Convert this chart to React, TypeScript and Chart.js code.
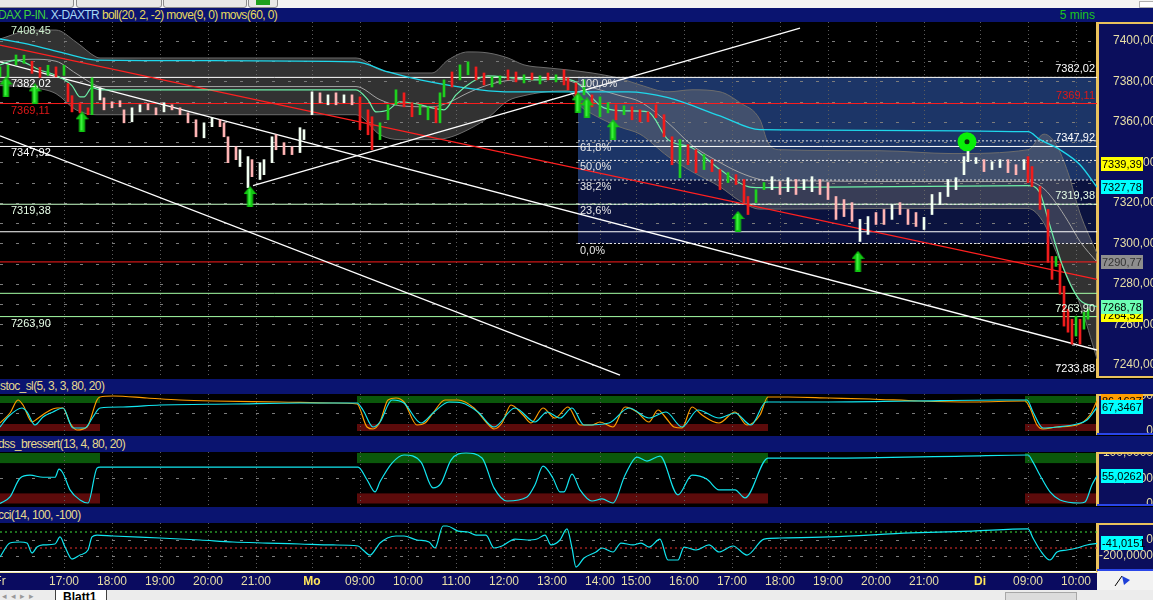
import React, { useEffect, useRef } from 'react';
import { Chart, registerables } from 'chart.js';

Chart.register(...registerables);

// ---------------- time axis (index of 5-minute bars) ----------------
const xMin = 0;
const xMax = 274.25;
const hourTickIdx = [0, 16, 28, 40, 52, 64, 78, 90, 102, 114, 126, 138, 150, 159, 171, 183, 195, 207, 219, 231, 245, 257, 269];
const hourTickLabels = ['Fr', '17:00', '18:00', '19:00', '20:00', '21:00', 'Mo', '09:00', '10:00', '11:00', '12:00', '13:00', '14:00', '15:00', '16:00', '17:00', '18:00', '19:00', '20:00', '21:00', 'Di', '09:00', '10:00'];
const dayLabels = ['Mo', 'Di'];

// ---------------- price axis ----------------
const priceMin = 7233.58;
const priceMax = 7409.38;
const priceTicks = [7240, 7260, 7280, 7300, 7320, 7340, 7360, 7380, 7400];
const priceGrid = [7240, 7250, 7260, 7270, 7280, 7290, 7300, 7310, 7320, 7330, 7340, 7350, 7360, 7370, 7380, 7390, 7400];

// ---------------- price bars (low / high) ----------------
const barIdx = [
  0, 2, 4, 6, 8, 10, 12, 14, 16, 17,
  18, 20, 22, 23, 25, 26, 28, 30, 31, 33,
  35, 37, 39, 41, 43, 45, 47, 49, 51, 53,
  55, 56, 57, 59, 60, 62, 63, 65, 66, 68,
  69, 71, 73, 75, 76, 78, 80, 82, 84, 86,
  88, 90, 92, 93, 95, 97, 99, 101, 103, 105,
  107, 109, 110, 111, 113, 115, 117, 119, 121, 123,
  125, 127, 129, 131, 133, 135, 137, 139, 141, 142,
  144, 146, 148, 150, 152, 154, 156, 158, 160, 162,
  164, 166, 168, 170, 172, 174, 176, 178, 180, 182,
  184, 186, 187, 189, 191, 193, 195, 197, 199, 201,
  203, 205, 207, 209, 211, 213, 215, 217, 219, 221,
  223, 225, 227, 229, 231, 233, 235, 237, 239, 241,
  242, 244, 246, 248, 250, 252, 254, 256, 257, 258,
  260, 262, 263, 264, 265, 266, 267, 268, 269, 270,
  271, 272,
];
const barLow = [
  7382.3, 7382.0, 7388.2, 7389.0, 7384.0, 7382.0, 7383.0, 7382.3, 7383.0, 7370.0,
  7365.0, 7364.5, 7363.6, 7363.6, 7370.9, 7366.0, 7367.0, 7367.5, 7359.6, 7360.1,
  7365.0, 7366.0, 7363.6, 7365.0, 7366.0, 7363.6, 7359.6, 7352.7, 7352.2, 7357.7,
  7357.7, 7352.7, 7339.9, 7341.4, 7338.0, 7327.6, 7333.0, 7331.6, 7334.0, 7339.9,
  7346.3, 7343.9, 7343.9, 7344.9, 7351.3, 7363.6, 7369.5, 7368.5, 7368.5, 7369.5,
  7368.5, 7356.2, 7353.7, 7346.3, 7351.3, 7361.1, 7368.5, 7367.5, 7362.6, 7363.6,
  7361.1, 7359.6, 7359.6, 7372.4, 7377.3, 7380.8, 7383.3, 7380.8, 7378.3, 7377.3,
  7378.8, 7380.8, 7379.8, 7379.3, 7380.8, 7378.8, 7380.8, 7379.8, 7378.3, 7375.9,
  7372.4, 7373.4, 7367.5, 7362.6, 7364.5, 7361.1, 7363.6, 7361.1, 7360.1, 7360.1,
  7362.1, 7352.7, 7338.9, 7332.5, 7338.9, 7335.0, 7336.5, 7335.5, 7326.6, 7330.1,
  7329.1, 7320.2, 7314.3, 7320.2, 7326.6, 7326.6, 7324.2, 7325.6, 7324.2, 7326.6,
  7325.6, 7324.2, 7321.7, 7311.9, 7313.3, 7310.9, 7301.0, 7304.5, 7309.4, 7309.4,
  7311.9, 7314.3, 7309.4, 7308.4, 7306.9, 7314.3, 7319.2, 7323.2, 7326.6, 7334.0,
  7340.4, 7339.5, 7335.5, 7336.5, 7337.5, 7335.0, 7334.0, 7336.5, 7330.1, 7328.1,
  7316.8, 7290.7, 7282.3, 7288.7, 7275.0, 7259.2, 7256.2, 7250.3, 7254.3, 7250.3,
  7257.7, 7262.6,
];
const barHigh = [
  7387.2, 7388.0, 7393.1, 7393.0, 7390.0, 7387.0, 7388.0, 7387.2, 7388.0, 7379.0,
  7373.0, 7369.5, 7367.0, 7381.8, 7376.9, 7371.9, 7370.0, 7370.5, 7366.0, 7367.0,
  7368.5, 7369.0, 7367.0, 7369.5, 7368.5, 7367.0, 7364.5, 7361.1, 7359.6, 7362.1,
  7361.1, 7359.6, 7352.7, 7347.8, 7346.3, 7342.9, 7341.4, 7339.9, 7341.4, 7352.7,
  7353.7, 7349.8, 7347.8, 7357.2, 7356.2, 7374.9, 7374.4, 7373.4, 7374.4, 7373.4,
  7373.4, 7372.4, 7366.0, 7362.6, 7359.6, 7368.5, 7375.9, 7374.4, 7369.5, 7368.5,
  7367.5, 7367.5, 7374.4, 7380.8, 7384.7, 7388.2, 7389.7, 7387.2, 7384.2, 7382.3,
  7382.8, 7385.7, 7384.7, 7383.3, 7384.2, 7382.8, 7384.2, 7383.3, 7385.7, 7381.8,
  7379.3, 7380.8, 7373.4, 7372.4, 7369.5, 7368.5, 7368.0, 7367.5, 7366.0, 7365.0,
  7368.5, 7363.6, 7352.7, 7351.3, 7348.8, 7346.3, 7343.9, 7341.4, 7336.5, 7335.0,
  7334.0, 7331.6, 7323.2, 7326.6, 7330.1, 7333.0, 7330.6, 7332.5, 7331.6, 7331.6,
  7333.0, 7331.6, 7330.1, 7323.2, 7321.7, 7320.2, 7311.9, 7313.3, 7315.3, 7316.8,
  7319.2, 7320.2, 7316.8, 7315.3, 7312.9, 7324.2, 7325.2, 7331.6, 7332.5, 7342.9,
  7347.8, 7342.4, 7341.4, 7340.4, 7341.4, 7341.4, 7338.9, 7341.4, 7342.9, 7338.0,
  7328.1, 7316.8, 7293.6, 7293.6, 7290.0, 7278.9, 7267.6, 7262.6, 7264.1, 7262.6,
  7266.1, 7267.6,
];
// g = rising (session), r = falling (session), w = rising (after hours), p = falling (after hours)
const barKind = [
  'g', 'g', 'g', 'g', 'r', 'r', 'g', 'r', 'g', 'r',
  'r', 'r', 'r', 'g', 'w', 'p', 'p', 'p', 'p', 'w',
  'w', 'p', 'p', 'w', 'p', 'p', 'p', 'p', 'w', 'w',
  'p', 'p', 'p', 'p', 'w', 'w', 'p', 'w', 'w', 'w',
  'p', 'p', 'p', 'w', 'w', 'w', 'p', 'w', 'p', 'w',
  'p', 'r', 'r', 'r', 'g', 'g', 'g', 'r', 'r', 'g',
  'g', 'r', 'g', 'g', 'r', 'g', 'g', 'r', 'r', 'g',
  'g', 'r', 'r', 'g', 'r', 'g', 'r', 'g', 'r', 'r',
  'r', 'g', 'r', 'g', 'g', 'r', 'g', 'r', 'r', 'r',
  'r', 'r', 'r', 'g', 'r', 'r', 'g', 'r', 'r', 'g',
  'r', 'r', 'r', 'g', 'g', 'w', 'p', 'w', 'p', 'w',
  'w', 'p', 'p', 'p', 'p', 'p', 'w', 'w', 'p', 'p',
  'w', 'p', 'p', 'p', 'w', 'w', 'w', 'w', 'w', 'w',
  'w', 'w', 'p', 'w', 'w', 'p', 'p', 'w', 'r', 'r',
  'r', 'r', 'r', 'g', 'r', 'r', 'r', 'r', 'g', 'r',
  'g', 'g',
];

// ---------------- Bollinger band boll(20, 2, -2) ----------------
const bbIdx = [0, 8, 14, 19, 24, 25, 89, 95, 100, 108, 112, 117, 122, 127, 131, 137, 142, 145, 148, 155, 160, 167, 173, 180, 185, 190, 192, 195, 220, 238, 257, 261, 264, 267, 270, 274.25];
const bbUpper = [7401.0, 7405.4, 7405.4, 7399.5, 7392.1, 7391.6, 7391.6, 7385.7, 7384.2, 7384.2, 7390.6, 7394.6, 7394.1, 7391.6, 7388.2, 7386.7, 7385.7, 7385.0, 7384.2, 7381.5, 7378.3, 7374.9, 7375.9, 7374.9, 7369.5, 7361.1, 7349.8, 7346.3, 7345.8, 7344.4, 7346.3, 7354.0, 7349.0, 7335.0, 7315.0, 7295.0];
const bbLower = [7378.0, 7377.0, 7374.0, 7366.0, 7363.6, 7363.6, 7363.6, 7353.7, 7351.3, 7351.3, 7352.2, 7356.2, 7362.1, 7370.5, 7373.0, 7375.0, 7375.5, 7368.0, 7364.0, 7357.5, 7354.0, 7343.0, 7335.5, 7328.0, 7321.0, 7317.0, 7317.0, 7317.0, 7317.3, 7317.3, 7317.3, 7310.0, 7296.0, 7283.0, 7270.0, 7243.0];
const bbMid = [7390.0, 7391.0, 7390.0, 7384.0, 7378.0, 7377.5, 7377.5, 7371.0, 7368.0, 7367.5, 7369.5, 7374.4, 7378.3, 7380.5, 7381.0, 7381.3, 7380.5, 7378.5, 7377.0, 7373.0, 7370.0, 7359.6, 7348.5, 7340.0, 7335.0, 7331.6, 7331.0, 7331.0, 7330.6, 7330.6, 7330.6, 7327.0, 7320.0, 7311.0, 7301.0, 7290.8];

// ---------------- moving averages move(9) and movs(60) ----------------
const ma9Idx = [0, 4, 10, 14, 18, 20, 21, 23, 25, 89, 92, 94, 97, 100, 104, 108, 111, 114, 118, 122, 128, 134, 140, 144, 151, 157, 162, 167, 173, 180, 187, 190, 257, 260, 262, 266, 270, 274.25];
const ma9 = [7388.2, 7390.6, 7385.7, 7383.0, 7378.0, 7372.4, 7372.4, 7377.0, 7375.9, 7375.9, 7370.9, 7365.0, 7365.9, 7370.0, 7369.0, 7367.0, 7366.0, 7373.4, 7379.8, 7382.8, 7381.8, 7380.8, 7381.3, 7379.8, 7367.0, 7365.5, 7365.0, 7351.3, 7347.3, 7336.5, 7328.1, 7327.6, 7328.6, 7325.0, 7312.0, 7287.0, 7272.0, 7268.8];
const ma60Idx = [0, 8, 16, 24, 89, 97, 105, 120, 128, 157, 167, 180, 190, 257, 260, 265, 270, 274.25];
const ma60 = [7401.0, 7398.0, 7394.0, 7390.6, 7389.7, 7384.7, 7380.8, 7375.9, 7374.9, 7374.9, 7372.0, 7363.0, 7356.2, 7355.2, 7351.3, 7346.3, 7338.9, 7327.8];

// ---------------- horizontal levels ----------------
const levelPrices = [7382.02, 7369.11, 7347.92, 7319.38, 7305.8, 7290.9, 7275.4, 7263.9];
const levelColors = ['#ffffff', '#ff1c1c', '#ffffff', '#c8ffc8', '#ffffff', '#ff1c1c', '#a6ffa6', '#a6ffa6'];
const leftLabelPrices = [7408.45, 7382.02, 7369.11, 7347.92, 7319.38, 7263.9];
const leftLabelColors = ['#cdeecd', '#ffffff', '#e01818', '#ffffff', '#e8ffe8', '#e8ffe8'];
const rightLabelPrices = [7382.02, 7369.11, 7347.92, 7319.38, 7263.9, 7233.88];
const rightLabelColors = ['#ffffff', '#e01818', '#ffffff', '#e8ffe8', '#e8ffe8', '#ffffff'];

// ---------------- trend lines ----------------
const trendStartIdx = [0, 0, 63.25, 0];
const trendStartPrice = [7389.7, 7353.2, 7328.6, 7398.0];
const trendEndIdx = [274.25, 155, 200, 274.25];
const trendEndPrice = [7247.4, 7235.0, 7406.4, 7282.3];
const trendColors = ['#ffffff', '#ffffff', '#ffffff', '#ff2020'];

// ---------------- Fibonacci retracement ----------------
const fibStartIdx = 144.5;
const fibHigh = 7382.02;
const fibLow = 7300.0;
const fibRatios = [1, 0.618, 0.5, 0.382, 0.236, 0];
const fibLabels = ['100,0%', '61,8%', '50,0%', '38,2%', '23,6%', '0,0%'];
const fibSplitRatio = 0.382;

// ---------------- signals ----------------
const arrowIdx = [1.5, 8.75, 20.5, 62.5, 144.5, 146.75, 153.25, 184.5, 214.5];
const arrowPrice = [7377.3, 7373.9, 7360.1, 7323.2, 7369.5, 7367.0, 7356.2, 7310.9, 7291.2];
const markIdx = [241.75];
const markPrice = [7350.2];

// ---------------- last-value tags (price axis) ----------------
const tagPrices = [7339.39, 7327.78, 7290.77, 7264.52, 7268.78];
const tagColors = ['#ffff00', '#00ffff', '#8e8e8e', '#ffff00', '#6cffb4'];
const tagTextColors = ['#000000', '#000000', '#333333', '#000000', '#000000'];

// ---------------- stoc_sl(5, 3, 3, 80, 20) ----------------
const stochFastIdx = [0, 2.5, 4.5, 5.75, 8, 9.25, 11.75, 14.25, 15.75, 17.5, 19.25, 21.75, 24.25, 25, 28.25, 36.75, 45, 53.25, 70, 83.25, 89.25, 91.75, 93.25, 95, 97, 99, 101, 104.25, 106.25, 108.25, 111.25, 114.5, 118.5, 121.5, 123.5, 125.5, 127.75, 130.75, 132.75, 135.75, 138.75, 142, 145, 148, 150, 153.25, 156.25, 159.25, 162.25, 164.5, 166.5, 168.5, 170.5, 173, 175.5, 179.75, 183.75, 186.75, 190, 192, 197, 207.25, 217.5, 229.75, 243, 256.25, 257.5, 259.25, 260.75, 264.25, 269.25, 272.5, 274.25];
const stochFast = [22.9, 51.4, 88.6, 74.3, 25.7, 34.3, 54.3, 65.7, 65.7, 22.9, 2.9, 11.4, 88.6, 97.1, 100, 94.3, 88.6, 85.7, 82.9, 80, 77.1, 11.4, 5.7, 25.7, 88.6, 94.3, 82.9, 17.1, 22.9, 51.4, 88.6, 88.6, 65.7, 25.7, 5.7, 22.9, 74.3, 45.7, 22.9, 65.7, 37.1, 68.6, 17.1, 17.1, 25.7, 11.4, 68.6, 54.3, 25.7, 60, 37.1, 11.4, 8.6, 68.6, 45.7, 22.9, 54.3, 17.1, 45.7, 97.1, 97.1, 94.3, 91.4, 85.7, 82.9, 85.7, 65.7, 17.1, 5.7, 11.4, 17.1, 45.7, 86.2];
const stochSlowIdx = [0, 2, 5.5, 6.75, 8.75, 10.75, 13.25, 15.75, 18.25, 21.25, 23.25, 25, 30.75, 40, 58.25, 75, 89.25, 90.75, 93.25, 95, 98, 101, 105.25, 108.25, 112.25, 115.5, 119.5, 123.5, 128.75, 133.75, 136.75, 140, 143, 146, 152.25, 157.25, 162.25, 166.5, 170.5, 174.5, 179.75, 183.75, 187.75, 191.5, 207.25, 227.75, 250, 256.75, 258.25, 260.75, 264.25, 269.25, 271.75, 274.25];
const stochSlow = [11.4, 40, 65.7, 54.3, 17.1, 40, 54.3, 65.7, 8.6, 8.6, 40, 65.7, 68.6, 74.3, 77.1, 80, 80, 60, 11.4, 25.7, 88.6, 80, 22.9, 51.4, 82.9, 80, 54.3, 11.4, 65.7, 25.7, 54.3, 37.1, 65.7, 17.1, 22.9, 65.7, 37.1, 54.3, 11.4, 60, 37.1, 51.4, 17.1, 82.9, 82.9, 85.7, 88.6, 88.6, 54.3, 8.6, 11.4, 20, 31.4, 67.3];
const stochTagValues = [86.1637, 67.3467];
const stochTagColors = ['#ff9c00', '#00ffff'];

// ---------------- dss_bressert(13, 4, 80, 20) ----------------
const dssIdx = [0, 2.5, 5, 7.5, 10.75, 13.75, 14.75, 15.75, 17.5, 20, 22, 24.25, 25, 89.5, 91.75, 93.75, 95, 98, 101, 105.25, 108.25, 110.25, 112.75, 116.5, 120.5, 123.5, 126.75, 131.75, 133.75, 135.75, 138.25, 140, 141, 143, 145, 148, 150.5, 153.25, 156.25, 159.25, 161.75, 165, 169.5, 173, 176.75, 179.75, 183.75, 186.25, 192, 207.25, 241, 257, 258.25, 260, 262.5, 265, 270, 271.25, 273, 274.25];
const dssVal = [0, 13, 50, 56, 52, 52, 68, 60, 27, 7, 1, 70, 72, 72, 47, 23, 43, 80, 96, 82, 31, 40, 86, 100, 90, 31, 5, 13, 37, 74, 50, 23, 23, 58, 27, 5, 9, 1, 56, 92, 84, 94, 17, 56, 48, 27, 27, 11, 90, 90, 94, 96, 82, 56, 23, 7, 1, 3, 37, 55];
const dssTagValues = [55.0262];

// ---------------- cci(14, 100, -100) ----------------
const cciIdx = [0, 2.5, 5, 6.75, 8, 9.25, 10.75, 13.75, 15, 16.25, 18, 20, 22, 23, 24.25, 28.25, 40, 50, 58.25, 66.75, 75, 83.25, 89.5, 90.75, 92.5, 94.25, 95, 99, 101, 104.25, 107.25, 108.75, 110.75, 111.75, 114.5, 117, 119, 121.5, 123.5, 125.5, 128.75, 131.75, 134.25, 136.25, 137.75, 140, 141.75, 143, 144, 146, 149, 150.5, 153.25, 155.25, 158.25, 160.25, 162.25, 165, 167, 169.5, 171, 174, 177.25, 179.75, 183.25, 186.75, 191, 195, 207.25, 227.75, 243, 257, 258.25, 260, 262.5, 264.25, 266.75, 269.25, 271.75, 274.25];
const cciVal = [-212, -38, -25, -38, -162, -88, -62, -50, 38, -88, -238, -188, -125, 38, 62, 50, 25, 0, -25, -38, -50, -62, -75, -125, -188, -88, -38, 50, 50, 0, -25, -100, 175, 175, 112, 100, 62, 62, -100, -75, 12, 0, 12, 62, -62, 0, 138, -100, -338, -225, -150, -100, -150, -38, -62, -38, -88, 12, -250, -250, -88, -125, -62, -150, -75, -188, 12, 25, 38, 88, 112, 138, 25, -125, -250, -150, -125, -100, -62, -41];
const cciLevels = [100, -100];
const cciLevelColors = ['#3ee03e', '#e83030'];
const cciTagValues = [-41.0151];

// ---------------- indicator panel settings ----------------
const stochMin = -11.43;
const stochMax = 105.71;
const stochTicks = [100, 0];
const dssMin = -4.95;
const dssMax = 101.98;
const dssTicks = [100, 50, 0];
const cciMin = -387.5;
const cciMax = 212.5;
const cciTicks = [0, -200];
const zoneStartIdx = [0, 89.25, 256.25];
const zoneEndIdx = [25, 192, 274.25];
const zoneUpper = [80, 100];
const zoneLower = [0, 20];

// ---------------- styling ----------------
const FONT = '"Liberation Sans", Arial, Helvetica, sans-serif';
const AXIS_W = 56;
const AXIS_BG = '#0b0e5c';
const HEADER_BG = '#0a1470';
const AXIS_BORDER = '#eac25c';
const AXIS_TEXT = '#e8dfa6';
const GRID_V = '#5c5c5c';
const GRID_H = '#7c7c7c';
const FIB_UPPER = '#1c3567';
const FIB_LOWER = '#0b133f';
const BAND_FILL = 'rgba(118,118,118,0.42)';
const BAND_EDGE = '#6c6c6c';
const ZONE_GREEN = '#0b580b';
const ZONE_RED = '#5c0b0b';
const barColors: Record<string, string> = { g: '#1ed01e', r: '#f01c1c', w: '#f2fff2', p: '#ffb4b4' };

const comma = (v: number, d: number) => v.toFixed(d).replace('.', ',');
const indFmt = (v: number) => (v === 0 ? '0' : comma(v, 4));
const fibPrice = (r: number) => fibLow + r * (fibHigh - fibLow);
const pts = (xs: number[], ys: number[]) => xs.map((x, i) => ({ x, y: ys[i] }));

function lineDs(data: any[], color: string, order: number, extra: any = {}) {
  return { type: 'line', data, borderColor: color, borderWidth: 1, pointRadius: 0, fill: false, tension: 0, order, ...extra };
}

function xScaleOptions(showLabels: boolean) {
  return {
    type: 'linear',
    min: xMin,
    max: xMax,
    offset: false,
    grid: { display: false, drawTicks: false, offset: false },
    border: { display: false },
    ticks: {
      display: showLabels,
      autoSkip: false,
      maxRotation: 0,
      minRotation: 0,
      padding: 3,
      color: (c: any) => (dayLabels.includes(hourTickLabels[c.index]) ? '#ffe65c' : AXIS_TEXT),
      font: (c: any) => ({ family: FONT, size: 12, weight: dayLabels.includes(hourTickLabels[c.index]) ? 'bold' : 'normal' }),
      callback: (_v: any, i: number) => hourTickLabels[i],
    },
    afterBuildTicks: (s: any) => {
      s.ticks = hourTickIdx.map((v) => ({ value: v }));
    },
    afterFit: (s: any) => {
      s.height = showLabels ? 19 : 0;
      s.paddingLeft = 0;
      s.paddingRight = 0;
    },
  };
}

function yScaleOptions(min: number, max: number, ticks: number[], fmt: (v: number) => string, crossAlign: string, padding: number) {
  return {
    type: 'linear',
    position: 'right',
    min,
    max,
    beginAtZero: false,
    grid: { display: false, drawTicks: false },
    border: { display: true, color: AXIS_BORDER, width: 2 },
    ticks: {
      autoSkip: false,
      color: AXIS_TEXT,
      font: { family: FONT, size: 12 },
      padding,
      crossAlign,
      callback: (v: any) => fmt(Number(v)),
    },
    afterBuildTicks: (s: any) => {
      s.ticks = ticks.map((v) => ({ value: v }));
    },
    afterFit: (s: any) => {
      s.width = AXIS_W;
      s.paddingTop = 0;
      s.paddingBottom = 0;
    },
  };
}

function drawVGrid(ctx: CanvasRenderingContext2D, a: any, x: any) {
  ctx.save();
  ctx.strokeStyle = GRID_V;
  ctx.lineWidth = 1;
  ctx.setLineDash([1, 3]);
  hourTickIdx.forEach((v, i) => {
    if (i === 0) return;
    const px = Math.round(x.getPixelForValue(v)) + 0.5;
    ctx.beginPath();
    ctx.moveTo(px, a.top);
    ctx.lineTo(px, a.bottom);
    ctx.stroke();
  });
  ctx.restore();
}

function drawHGrid(ctx: CanvasRenderingContext2D, a: any, y: any, values: number[]) {
  ctx.save();
  ctx.strokeStyle = GRID_H;
  ctx.lineWidth = 1;
  ctx.setLineDash([3, 13]);
  values.forEach((v) => {
    const py = Math.round(y.getPixelForValue(v)) + 0.5;
    ctx.beginPath();
    ctx.moveTo(a.left, py);
    ctx.lineTo(a.right, py);
    ctx.stroke();
  });
  ctx.restore();
}

function drawTag(ctx: CanvasRenderingContext2D, a: any, py: number, bg: string, fg: string, text: string, w: number) {
  const yy = Math.round(py);
  ctx.fillStyle = bg;
  ctx.fillRect(a.right + 4, yy - 7, w, 14);
  ctx.fillStyle = fg;
  ctx.font = `11px ${FONT}`;
  ctx.textAlign = 'left';
  ctx.textBaseline = 'middle';
  ctx.fillText(text, a.right + 5, yy + 1);
}

function makeArrow(): HTMLCanvasElement {
  const c = document.createElement('canvas');
  c.width = 13;
  c.height = 21;
  const g = c.getContext('2d') as CanvasRenderingContext2D;
  g.fillStyle = '#12c812';
  g.beginPath();
  g.moveTo(6.5, 0);
  g.lineTo(13, 8);
  g.lineTo(9.5, 8);
  g.lineTo(9.5, 21);
  g.lineTo(3.5, 21);
  g.lineTo(3.5, 8);
  g.lineTo(0, 8);
  g.closePath();
  g.fill();
  g.fillStyle = '#3cf03c';
  g.fillRect(5, 3, 2, 16);
  return c;
}

const mainDeco = {
  id: 'mainDeco',
  beforeDraw(chart: any) {
    const { ctx, chartArea: a, scales } = chart;
    const x = scales.x;
    const y = scales.y;
    ctx.save();
    ctx.fillStyle = '#000000';
    ctx.fillRect(0, 0, chart.width, chart.height);
    ctx.fillStyle = AXIS_BG;
    ctx.fillRect(a.right, 0, chart.width - a.right, chart.height);
    const fx = x.getPixelForValue(fibStartIdx);
    const yHi = y.getPixelForValue(fibHigh);
    const ySplit = y.getPixelForValue(fibPrice(fibSplitRatio));
    const yLo = y.getPixelForValue(fibLow);
    ctx.fillStyle = FIB_UPPER;
    ctx.fillRect(fx, yHi, a.right - fx, ySplit - yHi);
    ctx.fillStyle = FIB_LOWER;
    ctx.fillRect(fx, ySplit, a.right - fx, yLo - ySplit);
    ctx.restore();
    drawVGrid(ctx, a, x);
    drawHGrid(ctx, a, y, priceGrid);
  },
  afterDatasetsDraw(chart: any) {
    const { ctx, chartArea: a, scales } = chart;
    const x = scales.x;
    const y = scales.y;
    ctx.save();
    ctx.font = `11px ${FONT}`;
    ctx.textBaseline = 'middle';
    ctx.textAlign = 'left';
    leftLabelPrices.forEach((p, i) => {
      ctx.fillStyle = leftLabelColors[i];
      ctx.fillText(comma(p, 2), 11, y.getPixelForValue(p) + 7);
    });
    ctx.textAlign = 'right';
    rightLabelPrices.forEach((p, i) => {
      ctx.fillStyle = rightLabelColors[i];
      ctx.fillText(comma(p, 2), a.right - 2, y.getPixelForValue(p) - 8);
    });
    ctx.textAlign = 'left';
    ctx.fillStyle = '#e4e4e4';
    const fx = x.getPixelForValue(fibStartIdx);
    fibRatios.forEach((r, i) => {
      ctx.fillText(fibLabels[i], fx + 2, y.getPixelForValue(fibPrice(r)) + 7);
    });
    ctx.restore();
  },
  afterDraw(chart: any) {
    const { ctx, chartArea: a, scales } = chart;
    const y = scales.y;
    ctx.save();
    ctx.fillStyle = AXIS_BORDER;
    ctx.fillRect(a.right, 0, chart.width - a.right, 2);
    ctx.fillRect(a.right, chart.height - 2, chart.width - a.right, 2);
    ctx.fillRect(a.right, 0, 2, chart.height);
    tagPrices.forEach((p, i) => {
      drawTag(ctx, a, y.getPixelForValue(p), tagColors[i], tagTextColors[i], comma(p, 2), 42);
    });
    ctx.restore();
  },
};

function makePanelDeco(opts: { zones: boolean; dash: number[]; tagValues: number[]; tagColors: string[]; xAxis: boolean }) {
  return {
    id: 'panelDeco',
    beforeDraw(chart: any) {
      const { ctx, chartArea: a, scales } = chart;
      const x = scales.x;
      const y = scales.y;
      ctx.save();
      ctx.fillStyle = '#000000';
      ctx.fillRect(0, 0, chart.width, chart.height);
      ctx.fillStyle = AXIS_BG;
      ctx.fillRect(a.right, a.top, chart.width - a.right, a.bottom - a.top);
      if (opts.zones) {
        zoneStartIdx.forEach((s, i) => {
          const x0 = x.getPixelForValue(s);
          const x1 = x.getPixelForValue(zoneEndIdx[i]);
          ctx.fillStyle = ZONE_GREEN;
          const g0 = y.getPixelForValue(zoneUpper[1]);
          const g1 = y.getPixelForValue(zoneUpper[0]);
          ctx.fillRect(x0, g0, x1 - x0, g1 - g0);
          ctx.fillStyle = ZONE_RED;
          const r0 = y.getPixelForValue(zoneLower[1]);
          const r1 = y.getPixelForValue(zoneLower[0]);
          ctx.fillRect(x0, r0, x1 - x0, r1 - r0);
        });
      }
      if (opts.xAxis) {
        ctx.fillStyle = '#0a0b60';
        ctx.fillRect(0, a.bottom, a.right, chart.height - a.bottom);
        ctx.fillStyle = '#ffffff';
        ctx.fillRect(0, a.bottom, a.right, 1);
        ctx.fillStyle = '#f0e6a0';
        ctx.fillRect(0, a.bottom + 1, a.right, 1);
        ctx.fillStyle = '#f2f2f2';
        ctx.fillRect(a.right, a.bottom, chart.width - a.right, chart.height - a.bottom);
        ctx.fillStyle = '#1d3fd8';
        ctx.beginPath();
        ctx.moveTo(a.right + 25, a.bottom + 5);
        ctx.lineTo(a.right + 33, a.bottom + 9);
        ctx.lineTo(a.right + 27, a.bottom + 14);
        ctx.closePath();
        ctx.fill();
        ctx.strokeStyle = '#000000';
        ctx.beginPath();
        ctx.moveTo(a.right + 25, a.bottom + 5);
        ctx.lineTo(a.right + 18, a.bottom + 15);
        ctx.stroke();
      }
      ctx.restore();
      drawVGrid(ctx, a, x);
      drawHGrid(ctx, a, y, opts.dash);
    },
    afterDraw(chart: any) {
      const { ctx, chartArea: a, scales } = chart;
      const y = scales.y;
      ctx.save();
      ctx.fillStyle = AXIS_BORDER;
      ctx.fillRect(a.right, a.top, chart.width - a.right, 2);
      ctx.fillRect(a.right, a.top, 2, a.bottom - a.top);
      ctx.fillStyle = '#2a46e8';
      ctx.fillRect(a.right, a.bottom - 2, chart.width - a.right, 2);
      opts.tagValues.forEach((v, i) => {
        drawTag(ctx, a, y.getPixelForValue(v), opts.tagColors[i], '#000000', comma(v, 4), 42);
      });
      ctx.restore();
    },
  };
}

const baseOptions = {
  animation: false,
  responsive: false,
  maintainAspectRatio: false,
  devicePixelRatio: 1,
  events: [],
  layout: { padding: 0, autoPadding: false },
  plugins: { legend: { display: false }, tooltip: { enabled: false }, title: { display: false } },
};

function buildMain(arrowImg: HTMLCanvasElement) {
  const smooth = { cubicInterpolationMode: 'monotone' };
  const datasets: any[] = [
    lineDs(pts(bbIdx, bbUpper), BAND_EDGE, 60, { fill: '+1', backgroundColor: BAND_FILL, ...smooth }),
    lineDs(pts(bbIdx, bbLower), BAND_EDGE, 59, smooth),
    lineDs(pts(bbIdx, bbMid), '#a4a4a4', 58, smooth),
  ];
  levelPrices.forEach((p, i) => {
    datasets.push(lineDs([{ x: xMin, y: p }, { x: xMax, y: p }], levelColors[i], 50));
  });
  fibRatios.forEach((r) => {
    datasets.push(lineDs([{ x: fibStartIdx, y: fibPrice(r) }, { x: xMax, y: fibPrice(r) }], '#e6e6e6', 49, { borderDash: [2, 2] }));
  });
  trendStartIdx.forEach((s, i) => {
    datasets.push(lineDs([{ x: s, y: trendStartPrice[i] }, { x: trendEndIdx[i], y: trendEndPrice[i] }], trendColors[i], 45, { borderWidth: 1.3 }));
  });
  datasets.push(lineDs(pts(ma60Idx, ma60), '#1fd8ec', 40, { borderWidth: 1.3, ...smooth }));
  datasets.push(lineDs(pts(ma9Idx, ma9), '#6ef0a8', 39, { borderWidth: 1.2, ...smooth }));
  datasets.push({
    type: 'bar',
    data: barIdx.map((x, i) => ({ x, y: [barLow[i], barHigh[i]] })),
    backgroundColor: barKind.map((k) => barColors[k]),
    borderWidth: 0,
    barThickness: 2,
    order: 10,
  });
  datasets.push({
    type: 'line',
    data: pts(arrowIdx, arrowPrice),
    showLine: false,
    pointStyle: arrowImg,
    pointRadius: 6,
    order: 5,
  });
  datasets.push({
    type: 'line',
    data: pts(markIdx, markPrice),
    showLine: false,
    pointStyle: 'circle',
    pointRadius: 6,
    pointBorderWidth: 7,
    pointBorderColor: '#08f008',
    pointBackgroundColor: '#0a300a',
    order: 4,
  });
  return {
    type: 'line',
    data: { datasets },
    options: {
      ...baseOptions,
      scales: {
        x: xScaleOptions(false),
        y: yScaleOptions(priceMin, priceMax, priceTicks, (v) => comma(v, 2), 'near', 16),
      },
    },
    plugins: [mainDeco],
  };
}

function buildPanel(kind: 'stoch' | 'dss' | 'cci') {
  const smooth = { cubicInterpolationMode: 'monotone', borderWidth: 1.2 };
  let datasets: any[] = [];
  let min = 0;
  let max = 100;
  let ticks: number[] = [];
  let deco: any;
  let padding = 3;
  if (kind === 'stoch') {
    datasets = [
      lineDs(pts(stochFastIdx, stochFast), '#ff9c00', 20, smooth),
      lineDs(pts(stochSlowIdx, stochSlow), '#12e6f0', 10, smooth),
    ];
    min = stochMin;
    max = stochMax;
    ticks = stochTicks;
    deco = makePanelDeco({ zones: true, dash: [50], tagValues: stochTagValues, tagColors: stochTagColors, xAxis: false });
  } else if (kind === 'dss') {
    datasets = [lineDs(pts(dssIdx, dssVal), '#12e6f0', 10, smooth)];
    min = dssMin;
    max = dssMax;
    ticks = dssTicks;
    deco = makePanelDeco({ zones: true, dash: [50], tagValues: dssTagValues, tagColors: ['#00ffff'], xAxis: false });
  } else {
    datasets = cciLevels.map((v, i) => lineDs([{ x: xMin, y: v }, { x: xMax, y: v }], cciLevelColors[i], 30, { borderDash: [2, 3] }));
    datasets.push(lineDs(pts(cciIdx, cciVal), '#12e6f0', 10, smooth));
    min = cciMin;
    max = cciMax;
    ticks = cciTicks;
    padding = 2;
    deco = makePanelDeco({ zones: false, dash: [0, -200], tagValues: cciTagValues, tagColors: ['#00ffff'], xAxis: true });
  }
  return {
    type: 'line',
    data: { datasets },
    options: {
      ...baseOptions,
      scales: {
        x: xScaleOptions(kind === 'cci'),
        y: yScaleOptions(min, max, ticks, indFmt, 'far', padding),
      },
    },
    plugins: [deco],
  };
}

const headerText: React.CSSProperties = {
  position: 'absolute',
  whiteSpace: 'nowrap',
  fontSize: 12,
  letterSpacing: '-0.6px',
  fontFamily: FONT,
};

export default function App() {
  const mainRef = useRef<HTMLCanvasElement>(null);
  const stochRef = useRef<HTMLCanvasElement>(null);
  const dssRef = useRef<HTMLCanvasElement>(null);
  const cciRef = useRef<HTMLCanvasElement>(null);

  useEffect(() => {
    const arrowImg = makeArrow();
    const charts: Chart[] = [];
    if (mainRef.current) charts.push(new Chart(mainRef.current, buildMain(arrowImg) as any));
    if (stochRef.current) charts.push(new Chart(stochRef.current, buildPanel('stoch') as any));
    if (dssRef.current) charts.push(new Chart(dssRef.current, buildPanel('dss') as any));
    if (cciRef.current) charts.push(new Chart(cciRef.current, buildPanel('cci') as any));
    return () => charts.forEach((c) => c.destroy());
  }, []);

  const headerBar = (top: number, height: number): React.CSSProperties => ({
    position: 'absolute',
    left: 0,
    top,
    width: 1153,
    height,
    background: HEADER_BG,
    overflow: 'hidden',
  });

  return (
    <div style={{ position: 'absolute', left: 0, top: 0, width: 1153, height: 600, background: '#000', overflow: 'hidden', fontFamily: FONT }}>
      <div style={{ position: 'absolute', left: 0, top: 0, width: 1153, height: 8, background: '#f4f4f2' }}>
        <div style={{ position: 'absolute', left: -3, top: -6, width: 75, height: 12, border: '1px solid #8c8c8c', borderRadius: 3, background: '#e8e8e6' }} />
        <div style={{ position: 'absolute', left: 76, top: -6, width: 84, height: 12, border: '1px solid #8c8c8c', borderRadius: 3, background: '#e8e8e6' }} />
        <div style={{ position: 'absolute', left: 163, top: -6, width: 82, height: 12, border: '1px solid #8c8c8c', borderRadius: 3, background: '#e8e8e6' }} />
        <div style={{ position: 'absolute', left: 248, top: -6, width: 28, height: 12, border: '1px solid #8c8c8c', borderRadius: 3, background: '#e8e8e6' }} />
        <div style={{ position: 'absolute', left: 256, top: 0, width: 14, height: 5, background: '#1ea01e' }} />
        <div style={{ position: 'absolute', left: 1139, top: 1, width: 14, height: 5, background: '#ffffff', border: '1px solid #b0b0b0' }} />
      </div>

      <div style={headerBar(8, 14)}>
        <div style={{ ...headerText, left: -2, top: 0, lineHeight: '14px' }}>
          <span style={{ color: '#3dcf3d' }}>DAX P-IN.</span>
          <span style={{ color: '#a6d8f6' }}> X-DAXTR</span>
          <span style={{ color: '#e6da5e' }}> boll(20, 2, -2) move(9, 0) movs(60, 0)</span>
        </div>
        <div style={{ ...headerText, right: 58, top: 0, lineHeight: '14px', color: '#1cc41c', letterSpacing: '0px' }}>5 mins</div>
      </div>

      <canvas ref={mainRef} width={1153} height={356} style={{ position: 'absolute', left: 0, top: 22, width: 1153, height: 356 }} />

      <div style={headerBar(379, 15)}>
        <div style={{ ...headerText, left: 0, top: 0, lineHeight: '15px', color: '#e6d98e' }}>stoc_sl(5, 3, 3, 80, 20)</div>
      </div>
      <canvas ref={stochRef} width={1153} height={41} style={{ position: 'absolute', left: 0, top: 394, width: 1153, height: 41 }} />

      <div style={headerBar(436, 16)}>
        <div style={{ ...headerText, left: -2, top: 0, lineHeight: '16px', color: '#e6d98e' }}>dss_bressert(13, 4, 80, 20)</div>
      </div>
      <canvas ref={dssRef} width={1153} height={54} style={{ position: 'absolute', left: 0, top: 452, width: 1153, height: 54 }} />

      <div style={headerBar(507, 16)}>
        <div style={{ ...headerText, left: -2, top: 0, lineHeight: '16px', color: '#e6d98e' }}>cci(14, 100, -100)</div>
      </div>
      <canvas ref={cciRef} width={1153} height={67} style={{ position: 'absolute', left: 0, top: 523, width: 1153, height: 67 }} />

      <div style={{ position: 'absolute', left: 0, top: 590, width: 1153, height: 10, background: '#ececec', overflow: 'hidden' }}>
        <div style={{ position: 'absolute', left: 2, top: 2, width: 48, height: 8, color: '#9a9a9a', fontSize: 9, lineHeight: '9px', letterSpacing: '4px' }}>◂◂▸▸</div>
        <div style={{ position: 'absolute', left: 55, top: 0, width: 50, height: 12, background: '#ffffff', borderLeft: '1px solid #404040', borderRight: '1px solid #404040' }}>
          <div style={{ position: 'absolute', left: 7, top: 1, fontSize: 12, fontWeight: 'bold', color: '#000', lineHeight: '12px' }}>Blatt1</div>
        </div>
        <div style={{ position: 'absolute', left: 1005, top: 2, width: 70, height: 10, background: '#dcdcdc', border: '1px solid #a8a8a8' }} />
      </div>
    </div>
  );
}
